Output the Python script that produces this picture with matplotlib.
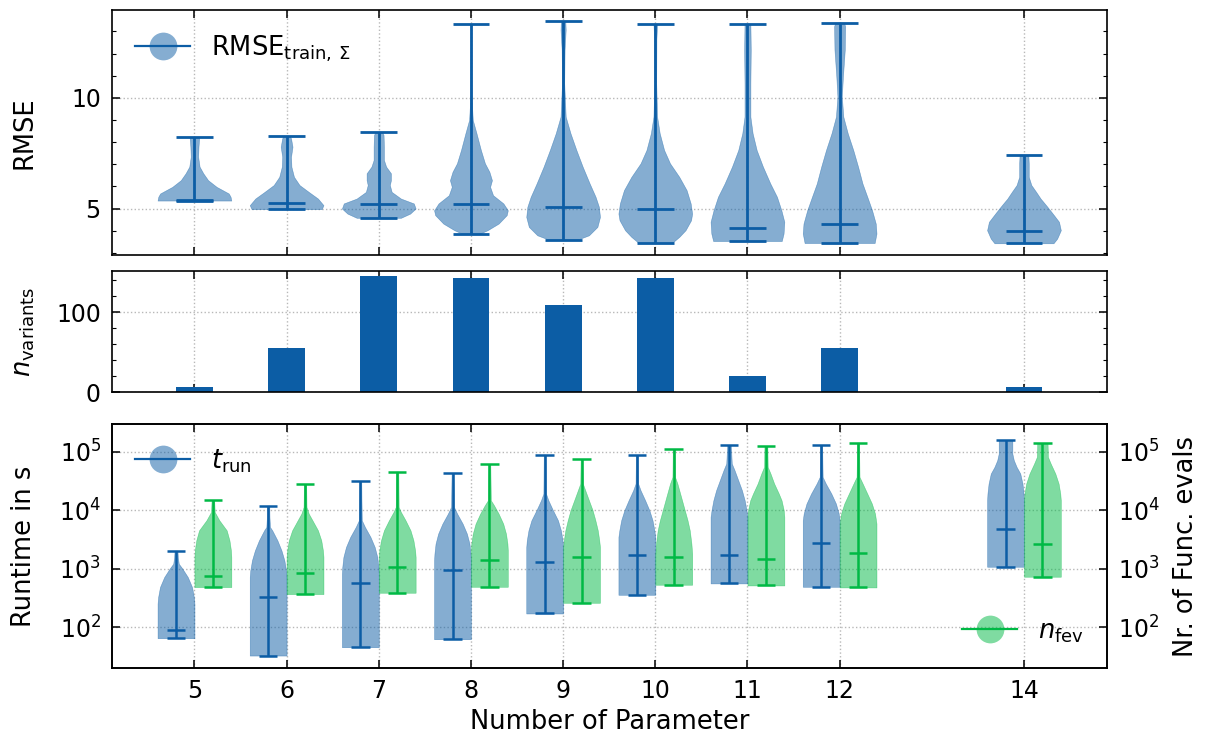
import numpy as np
import matplotlib
matplotlib.use("Agg")
import matplotlib.pyplot as plt
from matplotlib.lines import Line2D
from matplotlib.ticker import FixedLocator, MultipleLocator, LogLocator, NullLocator

# ---------------- data ----------------
n_params = [5, 6, 7, 8, 9, 10, 11, 12, 14]
n_variants = [7, 55, 145, 142, 109, 142, 20, 55, 7]

# RMSE violins: min / max / median and outline (value, relative half-width)
rmse_min = [5.36, 4.97, 4.58, 3.87, 3.60, 3.44, 3.53, 3.44, 3.43]
rmse_max = [8.22, 8.29, 8.44, 13.35, 13.46, 13.35, 13.35, 13.40, 7.40]
rmse_median = [5.40, 5.23, 5.21, 5.20, 5.06, 5.00, 4.14, 4.30, 3.99]
rmse_coords = [
    [5.36, 5.53, 5.68, 5.98, 6.28, 6.59, 6.89, 7.34, 7.79, 8.22],
    [4.97, 5.15, 5.45, 5.75, 6.06, 6.43, 6.89, 7.34, 7.79, 8.17, 8.29],
    [4.58, 4.77, 5.00, 5.23, 5.45, 5.75, 6.06, 6.28, 6.59, 6.89, 7.19, 7.79, 8.32, 8.44],
    [3.87, 4.02, 4.32, 4.70, 4.92, 5.23, 5.60, 5.98, 6.28, 6.66, 7.04, 7.64, 8.40, 9.00, 9.91, 11.42, 13.35],
    [3.60, 3.79, 4.17, 4.62, 5.08, 5.53, 6.13, 6.89, 7.64, 8.40, 9.15, 10.66, 12.17, 13.08, 13.46],
    [3.44, 3.72, 4.02, 4.47, 4.77, 5.23, 5.83, 6.43, 7.04, 7.64, 8.40, 9.15, 10.66, 12.63, 13.35],
    [3.53, 3.87, 4.40, 4.92, 5.53, 6.13, 6.89, 7.64, 8.40, 9.15, 10.66, 12.17, 13.35],
    [3.44, 3.87, 4.32, 4.92, 5.53, 6.13, 6.89, 7.64, 8.40, 9.15, 10.06, 10.97, 12.17, 13.23, 13.40],
    [3.43, 3.64, 4.02, 4.40, 4.77, 5.15, 5.45, 5.75, 6.06, 6.43, 7.04, 7.40],
]
rmse_density = [
    [1.0, 0.98, 0.93, 0.6, 0.37, 0.24, 0.14, 0.1, 0.11, 0.13],
    [0.95, 1.0, 0.85, 0.6, 0.35, 0.2, 0.13, 0.12, 0.16, 0.12, 0.08],
    [0.6, 0.85, 1.0, 0.95, 0.6, 0.35, 0.3, 0.33, 0.33, 0.2, 0.14, 0.14, 0.13, 0.1],
    [0.25, 0.45, 0.75, 0.97, 1.0, 0.88, 0.6, 0.52, 0.57, 0.5, 0.38, 0.27, 0.15, 0.05, 0.02, 0.015, 0.01],
    [0.4, 0.7, 0.93, 1.0, 0.97, 0.88, 0.72, 0.53, 0.36, 0.2, 0.07, 0.03, 0.04, 0.07, 0.06],
    [0.45, 0.65, 0.82, 0.97, 1.0, 0.96, 0.85, 0.65, 0.4, 0.24, 0.12, 0.05, 0.025, 0.03, 0.05],
    [0.93, 0.98, 1.0, 0.92, 0.8, 0.62, 0.42, 0.25, 0.14, 0.08, 0.08, 0.09, 0.08],
    [0.95, 1.0, 0.98, 0.88, 0.75, 0.62, 0.5, 0.37, 0.22, 0.1, 0.06, 0.09, 0.14, 0.15, 0.12],
    [0.8, 0.9, 1.0, 0.95, 0.78, 0.6, 0.45, 0.33, 0.2, 0.13, 0.13, 0.12],
]

# Runtime violins (decimal exponents, i.e. log10 of seconds)
trun_min_exp = [1.811, 1.514, 1.657, 1.794, 2.234, 2.554, 2.749, 2.691, 3.034]
trun_max_exp = [3.309, 4.080, 4.503, 4.634, 4.954, 4.949, 5.120, 5.114, 5.206]
trun_median_exp = [1.943, 2.509, 2.760, 2.977, 3.109, 3.240, 3.229, 3.440, 3.686]
trun_coords_exp = [
    [1.811, 2.400, 2.514, 2.686, 2.857, 3.000, 3.086, 3.200, 3.309],
    [1.514, 2.857, 2.971, 3.143, 3.314, 3.486, 3.657, 3.714, 3.886, 4.080],
    [1.657, 2.914, 3.029, 3.200, 3.371, 3.543, 3.714, 3.829, 4.200, 4.503],
    [1.794, 3.143, 3.257, 3.429, 3.600, 3.771, 3.943, 4.057, 4.634],
    [2.234, 3.371, 3.486, 3.657, 3.829, 4.000, 4.171, 4.286, 4.954],
    [2.554, 3.543, 3.657, 3.829, 4.000, 4.171, 4.343, 4.457, 4.949],
    [2.749, 3.886, 4.000, 4.171, 4.343, 4.514, 4.686, 4.800, 5.120],
    [2.691, 3.829, 3.943, 4.114, 4.286, 4.457, 4.571, 5.114],
    [3.034, 4.171, 4.286, 4.457, 4.629, 4.743, 4.857, 4.971, 5.143, 5.206],
]
trun_density = [
    [1.0, 1.0, 0.97, 0.87, 0.64, 0.35, 0.15, 0.1, 0.08],
    [1.0, 1.0, 0.97, 0.88, 0.72, 0.5, 0.22, 0.1, 0.07, 0.06],
    [1.0, 1.0, 0.98, 0.92, 0.78, 0.55, 0.25, 0.08, 0.06, 0.05],
    [1.0, 1.0, 0.98, 0.92, 0.78, 0.55, 0.25, 0.08, 0.05],
    [1.0, 1.0, 0.97, 0.88, 0.72, 0.45, 0.2, 0.07, 0.05],
    [1.0, 1.0, 0.95, 0.85, 0.68, 0.45, 0.2, 0.07, 0.05],
    [1.0, 1.0, 0.95, 0.85, 0.7, 0.5, 0.3, 0.15, 0.1],
    [1.0, 1.0, 0.95, 0.8, 0.55, 0.25, 0.08, 0.05],
    [1.0, 1.0, 0.98, 0.92, 0.8, 0.6, 0.45, 0.37, 0.37, 0.37],
]

# Function-evaluation violins (decimal exponents)
nfev_min_exp = [2.686, 2.566, 2.589, 2.691, 2.417, 2.726, 2.714, 2.680, 2.863]
nfev_max_exp = [4.177, 4.446, 4.663, 4.794, 4.874, 5.051, 5.097, 5.160, 5.149]
nfev_median_exp = [2.874, 2.920, 3.023, 3.149, 3.206, 3.200, 3.171, 3.274, 3.423]
nfev_coords_exp = [
    [2.686, 3.200, 3.314, 3.486, 3.657, 3.829, 3.943, 3.971, 4.177],
    [2.566, 3.200, 3.314, 3.486, 3.657, 3.829, 3.943, 4.057, 4.446],
    [2.589, 3.200, 3.314, 3.486, 3.657, 3.829, 3.971, 4.057, 4.663],
    [2.691, 3.314, 3.429, 3.600, 3.771, 3.943, 4.086, 4.171, 4.794],
    [2.417, 3.371, 3.486, 3.657, 3.829, 4.000, 4.171, 4.343, 4.457, 4.874],
    [2.726, 3.257, 3.429, 3.657, 3.829, 4.000, 4.229, 4.457, 4.571, 5.051],
    [2.714, 3.886, 4.000, 4.171, 4.286, 4.457, 4.629, 4.743, 5.097],
    [2.680, 3.771, 3.943, 4.114, 4.286, 4.457, 4.571, 5.160],
    [2.863, 4.171, 4.286, 4.457, 4.629, 4.800, 4.914, 5.149],
]
nfev_density = [
    [1.0, 1.0, 0.98, 0.9, 0.75, 0.35, 0.15, 0.1, 0.07],
    [1.0, 1.0, 0.97, 0.88, 0.7, 0.4, 0.2, 0.08, 0.06],
    [1.0, 1.0, 0.97, 0.88, 0.72, 0.45, 0.2, 0.08, 0.06],
    [1.0, 1.0, 0.98, 0.9, 0.75, 0.5, 0.25, 0.08, 0.05],
    [1.0, 1.0, 0.96, 0.88, 0.75, 0.6, 0.4, 0.2, 0.07, 0.05],
    [1.0, 1.0, 0.96, 0.87, 0.75, 0.6, 0.4, 0.2, 0.07, 0.05],
    [1.0, 1.0, 0.97, 0.85, 0.7, 0.45, 0.25, 0.1, 0.08],
    [1.0, 1.0, 0.92, 0.75, 0.5, 0.25, 0.08, 0.05],
    [1.0, 1.0, 0.97, 0.88, 0.7, 0.45, 0.3, 0.28],
]

# ---------------- style ----------------
BLUE = "#0C5DA5"
GREEN = "#00B945"
TICK_FS = 17
LABEL_FS = 18.5

plt.rcParams.update({
    "font.family": ["DejaVu Sans"],
    "mathtext.fontset": "dejavusans",
    "axes.linewidth": 1.2,
    "xtick.direction": "in",
    "ytick.direction": "in",
    "xtick.major.size": 5.5,
    "ytick.major.size": 5.5,
    "xtick.minor.size": 3.0,
    "ytick.minor.size": 3.0,
    "xtick.major.width": 1.1,
    "ytick.major.width": 1.1,
    "xtick.minor.width": 0.8,
    "ytick.minor.width": 0.8,
    "xtick.major.pad": 8.0,
    "ytick.major.pad": 8.0,
    "xtick.labelsize": TICK_FS,
    "ytick.labelsize": TICK_FS,
    "xtick.top": True,
    "ytick.right": True,
})


def make_stats(mins, maxs, meds, coords, dens, conv=None):
    out = []
    for mn, mx, md, c, d in zip(mins, maxs, meds, coords, dens):
        c = np.asarray(c, float)
        if conv is not None:
            mn, mx, md, c = conv(mn), conv(mx), conv(md), conv(c)
        out.append({"coords": c, "vals": np.asarray(d, float), "mean": md,
                    "median": md, "min": mn, "max": mx, "quantiles": []})
    return out


def style_parts(parts, color, lw):
    for b in parts["bodies"]:
        b.set_facecolor(color)
        b.set_edgecolor(color)
        b.set_linewidth(0.4)
        b.set_alpha(0.5)
    for key in ("cmaxes", "cmins", "cbars", "cmedians"):
        parts[key].set_color(color)
        parts[key].set_linewidth(lw)


def exp10(x):
    return np.power(10.0, x)


fig = plt.figure(figsize=(12.05, 7.4), dpi=100)
L, W = 0.0929, 0.8257
ax1 = fig.add_axes([L, 0.6554, W, 0.3311])
ax2 = fig.add_axes([L, 0.4699, W, 0.1643], sharex=ax1)
ax3 = fig.add_axes([L, 0.0973, W, 0.3297], sharex=ax1)

# ---- top: RMSE ----
p1 = ax1.violin(make_stats(rmse_min, rmse_max, rmse_median, rmse_coords, rmse_density),
                positions=n_params, widths=0.8, showmeans=False,
                showextrema=True, showmedians=True)
style_parts(p1, BLUE, 2.0)
ax1.set_ylim(2.9, 13.97)
ax1.yaxis.set_major_locator(MultipleLocator(5))
ax1.yaxis.set_minor_locator(MultipleLocator(1))
ax1.set_ylabel("RMSE", fontsize=LABEL_FS)

# ---- middle: number of variants ----
ax2.bar(n_params, n_variants, width=0.4, color=BLUE, zorder=2)
ax2.set_ylim(0, 151.6)
ax2.yaxis.set_major_locator(MultipleLocator(100))
ax2.yaxis.set_minor_locator(MultipleLocator(20))
ax2.set_ylabel(r"$n_\mathrm{variants}$", fontsize=LABEL_FS)

# ---- bottom: runtime and function evaluations ----
ax3.set_yscale("log")
p3 = ax3.violin(make_stats(trun_min_exp, trun_max_exp, trun_median_exp,
                           trun_coords_exp, trun_density, conv=exp10),
                positions=[p - 0.2 for p in n_params], widths=0.4,
                showmeans=False, showextrema=True, showmedians=True)
style_parts(p3, BLUE, 1.8)
ylim3 = (20.0, 3.0e5)
ax3.set_ylim(*ylim3)
ax3.yaxis.set_major_locator(LogLocator(base=10, numticks=10))
ax3.yaxis.set_minor_locator(NullLocator())
ax3.tick_params(axis="y", which="both", right=False)
ax3.set_ylabel("Runtime in s", fontsize=LABEL_FS)

ax3b = ax3.twinx()
ax3b.set_yscale("log")
p3b = ax3b.violin(make_stats(nfev_min_exp, nfev_max_exp, nfev_median_exp,
                             nfev_coords_exp, nfev_density, conv=exp10),
                  positions=[p + 0.2 for p in n_params], widths=0.4,
                  showmeans=False, showextrema=True, showmedians=True)
style_parts(p3b, GREEN, 1.8)
ax3b.set_ylim(*ylim3)
ax3b.yaxis.set_major_locator(LogLocator(base=10, numticks=10))
ax3b.yaxis.set_minor_locator(NullLocator())
ax3b.tick_params(axis="y", which="both", direction="in", left=False, right=True,
                 labelsize=TICK_FS, pad=8.0, length=5.5, width=1.1)
ax3b.set_ylabel("Nr. of Func. evals", fontsize=LABEL_FS)

# ---- shared x axis ----
ax1.set_xlim(4.105, 14.9)
for ax in (ax1, ax2, ax3):
    ax.xaxis.set_major_locator(FixedLocator(n_params))
    ax.xaxis.set_minor_locator(NullLocator())
    ax.grid(True, which="major", ls=":", color="0.72", lw=1.0, zorder=0)
    ax.set_axisbelow(True)
ax1.tick_params(labelbottom=False)
ax2.tick_params(labelbottom=False)
ax3.set_xlabel("Number of Parameter", fontsize=LABEL_FS)

for ax in (ax1, ax2, ax3):
    ax.yaxis.set_label_coords(-0.075, 0.5)
ax3b.yaxis.set_label_coords(1.066, 0.5)

# ---- legends ----
def handle(color):
    circ = Line2D([], [], ls="none", marker="o", markersize=20,
                  markerfacecolor=matplotlib.colors.to_rgba(color, 0.5),
                  markeredgecolor="none")
    line = Line2D([], [], color=color, lw=1.6)
    return (circ, line)

ax1.legend([handle(BLUE)], [r"RMSE$_\mathrm{train,\,\Sigma}$"], loc="upper left",
           frameon=False, fontsize=LABEL_FS, handlelength=2.15, handletextpad=0.8)
ax3.legend([handle(BLUE)], [r"$t_\mathrm{run}$"], loc="upper left",
           frameon=False, fontsize=LABEL_FS, handlelength=2.15, handletextpad=0.8)
ax3b.legend([handle(GREEN)], [r"$n_\mathrm{fev}$"], loc="lower right",
            frameon=False, fontsize=LABEL_FS, handlelength=2.15, handletextpad=0.8)

fig.savefig("out.png", dpi=100)
